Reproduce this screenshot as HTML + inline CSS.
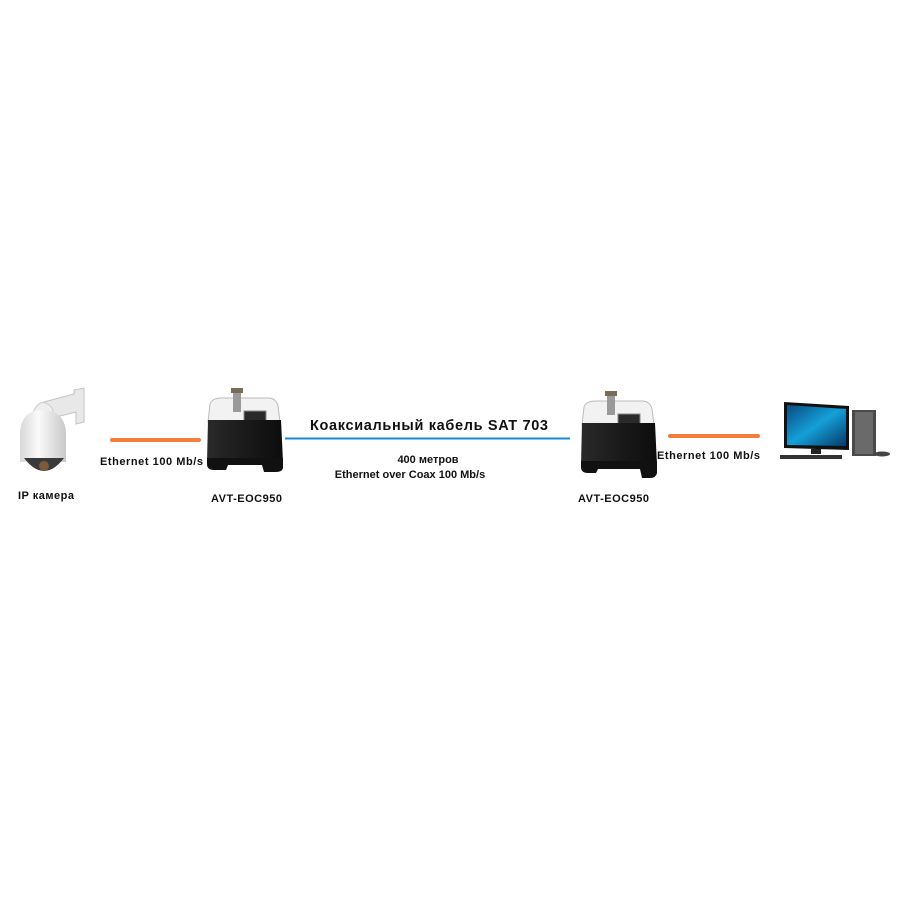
<!DOCTYPE html>
<html><head><meta charset="utf-8"><style>
html,body{margin:0;padding:0;background:#fff}
svg{display:block}
text{font-family:"Liberation Sans","DejaVu Sans",sans-serif;font-weight:bold;fill:#111}
</style></head><body>
<svg width="900" height="900" viewBox="0 0 900 900">
<defs>
<linearGradient id="dome" x1="0" x2="1"><stop offset="0" stop-color="#d8d8d8"/><stop offset="0.4" stop-color="#fafafa"/><stop offset="1" stop-color="#c8c8c8"/></linearGradient>
<linearGradient id="scr" x1="0" x2="1" y1="0" y2="1"><stop offset="0" stop-color="#0a4a80"/><stop offset="0.5" stop-color="#14a0d8"/><stop offset="1" stop-color="#063a6a"/></linearGradient>
<linearGradient id="box" x1="0" x2="1"><stop offset="0" stop-color="#2a2a2a"/><stop offset="0.5" stop-color="#1a1a1a"/><stop offset="1" stop-color="#0d0d0d"/></linearGradient>
</defs>
<!-- camera -->
<path d="M44 402 L74 394 L74 390 L84 388 L84 422 L76 424 L76 412 L52 418 Z" fill="#e8e8e8" stroke="#c4c4c4"/>
<path d="M34 410 Q42 396 52 408 L56 420 L30 420 Z" fill="#eee" stroke="#ccc"/>
<path d="M20 432 Q22 410 42 410 Q64 410 66 432 L66 462 L20 462 Z" fill="url(#dome)"/>
<path d="M24 458 Q44 484 64 458 Z" fill="#3a3a3a"/>
<circle cx="44" cy="466" r="5" fill="#7a5a3a"/>
<!-- lines -->
<rect x="110" y="438" width="91" height="4" rx="2" fill="#f47c3c"/>
<rect x="285" y="437.5" width="285" height="2" fill="#1a8ad4"/>
<rect x="668" y="434" width="92" height="4" rx="2" fill="#f47c3c"/>
<!-- device 1 -->
<g>
<path d="M210 404 Q212 398 222 398 L268 398 Q276 398 278 406 L280 422 L208 422 Z" fill="#f2f2f2" stroke="#bbb"/>
<rect x="233" y="390" width="8" height="22" fill="#9a9a9a"/><rect x="231" y="388" width="12" height="5" fill="#7a6a5a"/>
<rect x="244" y="411" width="22" height="13" fill="#2a2a2a" stroke="#888"/>
<path d="M208 420 L281 420 L283 462 L207 462 Z" fill="url(#box)"/>
<path d="M207 458 L283 458 L283 468 Q282 472 276 472 L264 472 L262 465 L228 465 L226 470 L214 470 Q207 470 207 464 Z" fill="#111"/>
</g>
<!-- device 2 -->
<g transform="translate(374,3)">
<path d="M210 404 Q212 398 222 398 L268 398 Q276 398 278 406 L280 422 L208 422 Z" fill="#f2f2f2" stroke="#bbb"/>
<rect x="233" y="390" width="8" height="22" fill="#9a9a9a"/><rect x="231" y="388" width="12" height="5" fill="#7a6a5a"/>
<rect x="244" y="411" width="22" height="13" fill="#2a2a2a" stroke="#888"/>
<path d="M208 420 L281 420 L283 462 L207 462 Z" fill="url(#box)"/>
<path d="M207 458 L283 458 L283 470 Q282 475 276 475 L268 475 L266 466 L224 466 L222 470 L214 470 Q207 470 207 464 Z" fill="#111"/>
</g>
<!-- PC -->
<rect x="852" y="410" width="24" height="46" fill="#4a4a4a"/><rect x="855" y="412" width="18" height="42" fill="#6a6a6a"/>
<path d="M784 402 L849 406 L849 450 L784 448 Z" fill="#111"/>
<path d="M787 405 L846 409 L846 446 L787 445 Z" fill="url(#scr)"/>
<rect x="811" y="449" width="10" height="5" fill="#222"/>
<rect x="780" y="455" width="62" height="4" fill="#333"/>
<ellipse cx="882" cy="454" rx="8" ry="2.5" fill="#444"/>
<!-- text -->
<text x="100" y="465" font-size="11" textLength="103">Ethernet 100 Mb/s</text>
<text x="18" y="499" font-size="11" textLength="56">IP камера</text>
<text x="211" y="502" font-size="11" textLength="71">AVT-EOC950</text>
<text x="310" y="430" font-size="14.5" textLength="238">Коаксиальный кабель SAT 703</text>
<text x="428" y="463" font-size="11" text-anchor="middle">400 метров</text>
<text x="410" y="478" font-size="11" text-anchor="middle">Ethernet over Coax 100 Mb/s</text>
<text x="578" y="502" font-size="11" textLength="71">AVT-EOC950</text>
<text x="657" y="459" font-size="11" textLength="103">Ethernet 100 Mb/s</text>
</svg>
</body></html>
